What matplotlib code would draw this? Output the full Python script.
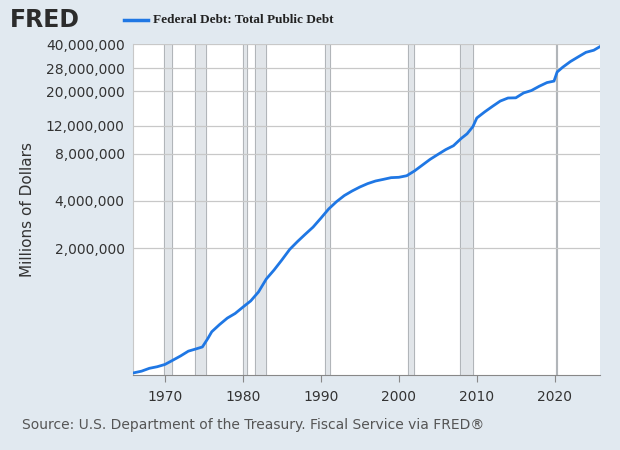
import matplotlib
matplotlib.use("Agg")
import matplotlib.pyplot as plt
from matplotlib.ticker import FixedLocator, NullLocator

# ── data (millions of dollars) ────────────────────────────────────────────────
years = [1966.0, 1967, 1968, 1969, 1970, 1971, 1972, 1973, 1974, 1974.8, 1975.5,
         1976, 1977, 1978, 1979, 1980, 1981, 1982, 1983, 1984, 1985, 1986, 1987,
         1988, 1989, 1990, 1991, 1992, 1993, 1994, 1995, 1996, 1997, 1998, 1999,
         2000, 2001, 2002, 2003, 2004, 2005, 2006, 2007, 2008, 2008.75, 2009.5,
         2010, 2011, 2012, 2013, 2014, 2015, 2016, 2017, 2018, 2019, 2019.9,
         2020.3, 2021, 2022, 2023, 2024, 2025, 2025.8]
debt = [320e3, 328e3, 342e3, 350e3, 362e3, 385e3, 410e3, 440e3, 455e3, 468e3, 530e3,
        585e3, 650e3, 715e3, 765e3, 840e3, 920e3, 1050e3, 1270e3, 1450e3, 1680e3,
        1960e3, 2200e3, 2450e3, 2720e3, 3100e3, 3550e3, 3950e3, 4320e3, 4620e3,
        4900e3, 5150e3, 5350e3, 5480e3, 5620e3, 5650e3, 5780e3, 6200e3, 6750e3,
        7350e3, 7900e3, 8480e3, 8980e3, 10000e3, 10700e3, 11900e3, 13500e3, 14750e3,
        16000e3, 17300e3, 18100e3, 18150e3, 19500e3, 20200e3, 21500e3, 22700e3,
        23200e3, 26500e3, 28400e3, 30900e3, 33100e3, 35400e3, 36500e3, 38500e3]

recessions = [(1969.9, 1970.9), (1973.9, 1975.2), (1980.0, 1980.5), (1981.5, 1982.9),
              (1990.5, 1991.2), (2001.2, 2001.9), (2007.9, 2009.5), (2020.1, 2020.3)]

y_ticks = [2e6, 4e6, 8e6, 12e6, 20e6, 28e6, 40e6]
y_labels = ["2,000,000", "4,000,000", "8,000,000", "12,000,000",
            "20,000,000", "28,000,000", "40,000,000"]
x_ticks = [1970, 1980, 1990, 2000, 2010, 2020]

BG = "#e1e9f0"
LINE = "#1f77e4"

fig = plt.figure(figsize=(6.2, 4.5), dpi=100, facecolor=BG)
ax = fig.add_axes([133 / 620, 1 - 375 / 450, 467 / 620, 331 / 450])
ax.set_facecolor("white")

for a, b in recessions:
    ax.axvspan(a, b, color="#e1e5e9", zorder=0)
    ax.axvline(a, color="#b0b4b8", lw=0.7, zorder=0)
    ax.axvline(b, color="#b0b4b8", lw=0.7, zorder=0)

ax.plot(years, debt, color=LINE, lw=2.0, zorder=3)

ax.set_yscale("log")
ax.set_ylim(310e3, 40e6)
ax.set_xlim(1965.9, 2025.8)
ax.yaxis.set_major_locator(FixedLocator(y_ticks))
ax.yaxis.set_minor_locator(NullLocator())
ax.set_yticklabels(y_labels)
ax.set_xticks(x_ticks)
ax.grid(True, axis="y", color="#c8c8c8", lw=0.9, zorder=1)
for s in ax.spines.values():
    s.set_visible(False)
ax.spines["bottom"].set_visible(True)
ax.spines["bottom"].set_color("#888888")
ax.spines["left"].set_visible(True)
ax.spines["left"].set_color("#c8c8c8")
ax.tick_params(axis="both", length=0, labelsize=10, colors="#333333", pad=6)
ax.tick_params(axis="x", length=5, color="#888888")
ax.set_ylabel("Millions of Dollars", fontsize=11, color="#333333", labelpad=8)

fig.text(10 / 620, 1 - 20 / 450, "FRED", fontsize=17, fontweight="bold",
         color="#2c2c2c", va="center")
fig.lines.append(plt.Line2D([124 / 620, 148 / 620], [1 - 20 / 450] * 2,
                            color=LINE, lw=2.5, transform=fig.transFigure))
fig.text(153 / 620, 1 - 20 / 450, "Federal Debt: Total Public Debt", fontsize=9.5,
         fontweight="bold", family="Liberation Serif", color="#222222", va="center")
fig.text(22 / 620, 1 - 425 / 450,
         "Source: U.S. Department of the Treasury. Fiscal Service via FRED\u00ae",
         fontsize=10, color="#555555", va="center")

fig.savefig("out.png", dpi=100, facecolor=BG)
